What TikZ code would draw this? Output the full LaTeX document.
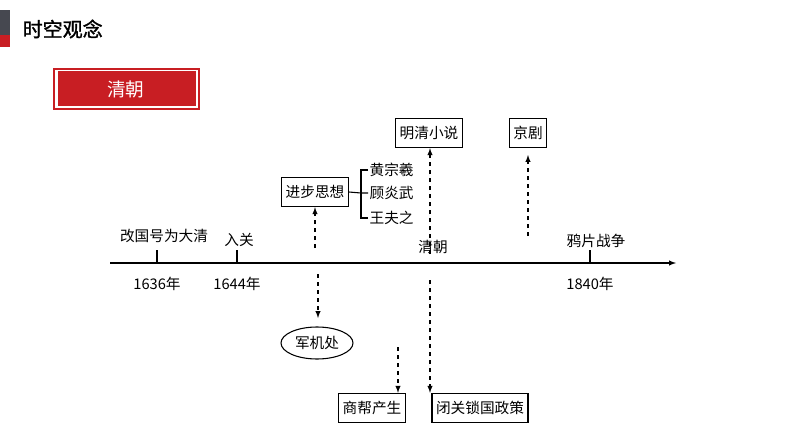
\documentclass[tikz,border=0pt]{standalone}
\usepackage{fontspec}
\setmainfont{Liberation Serif}
\newfontfamily\cjk{Noto Sans CJK SC}
\newfontfamily\cjkb{Noto Sans CJK SC}[FakeBold=1.5]
\usetikzlibrary{positioning}
\usetikzlibrary{arrows}
\usetikzlibrary{shapes.geometric}
\definecolor{stampred}{RGB}{200,30,35}
\definecolor{bargray}{RGB}{70,72,80}

\begin{document}
\begin{tikzpicture}[x=0.75pt,y=-0.75pt]
\tikzstyle{txt} = [inner sep=1pt, font=\cjk\fontsize{11}{13}\selectfont]
\tikzstyle{ebox} = [draw, thick, txt, minimum height=22pt, inner sep=3pt]
\tikzstyle{dline} = [draw, thick, dashed, -latex]
\tikzstyle{tick} = [draw, thick]

\useasboundingbox (0,0) rectangle (794,447);
% header
\fill [bargray] (0,10) rectangle (10,35);
\fill [stampred] (0,35) rectangle (10,47);
\node [anchor=west, font=\cjkb\fontsize{15}{17}\selectfont] (title) at (18,29) {时空观念};
\fill [stampred] (58,71) rectangle (196,106);
\draw [stampred, thick] (54,69) rectangle (199,109);
\node [text=white, font=\cjk\fontsize{14}{16}\selectfont] (era) at (126,89) {清朝};

% time axis
\coordinate (a0) at (110,263);
\coordinate (a1) at (676,263);
\draw [thick, -latex] (a0) -- (a1);
\foreach \x/\yr in {157/1636, 237/1644, 590/1840}{
  \draw [tick] (\x,250) -- (\x,263);
  \node [txt] at (\x,284) {\yr 年};
}
\node [txt] (e1) at (164,236) {改国号为大清};
\node [txt] (e2) at (239,240) {入关};
\node [txt] (e3) at (596,241) {鸦片战争};
\node [txt] (qing) at (433,247) {清朝};

% upper
\node [ebox] (thought) at (315,192) {进步思想};
\node [ebox] (novel) at (429,133) {明清小说};
\node [ebox] (opera) at (528,133) {京剧};
\node [txt, anchor=west] (p1) at (368,170) {黄宗羲};
\node [txt, anchor=west] (p2) at (368,193) {顾炎武};
\node [txt, anchor=west] (p3) at (368,218) {王夫之};
\draw [thick] (thought.east) -- (361,193) -- (p2.west);
\draw [thick] (p1.west) -- (361,170) -- (361,218) -- (p3.west);

% lower
\node [draw, thick, ellipse, txt, minimum width=54pt, minimum height=24pt] (jjc) at (317,343) {军机处};
\node [ebox] (merch) at (372,408) {商帮产生};
\node [ebox] (close) at (480,408) {闭关锁国政策};

\coordinate (u1) at (315,248);
\coordinate (u2) at (430,254);
\coordinate (u3) at (528,236);
\coordinate (d1) at (318,274);
\coordinate (d2) at (430,280);
\coordinate (d3) at (398,347);
\path [dline] (u1) -- (thought);
\path [dline] (u2) -- (novel.south -| u2);
\path [dline] (u3) -- (528,155);
\path [dline] (d1) -- (318,318);
\path [dline] (d2) -- (close.north -| d2);
\path [dline] (d3) -- (merch.north -| d3);
\end{tikzpicture}
\end{document}
